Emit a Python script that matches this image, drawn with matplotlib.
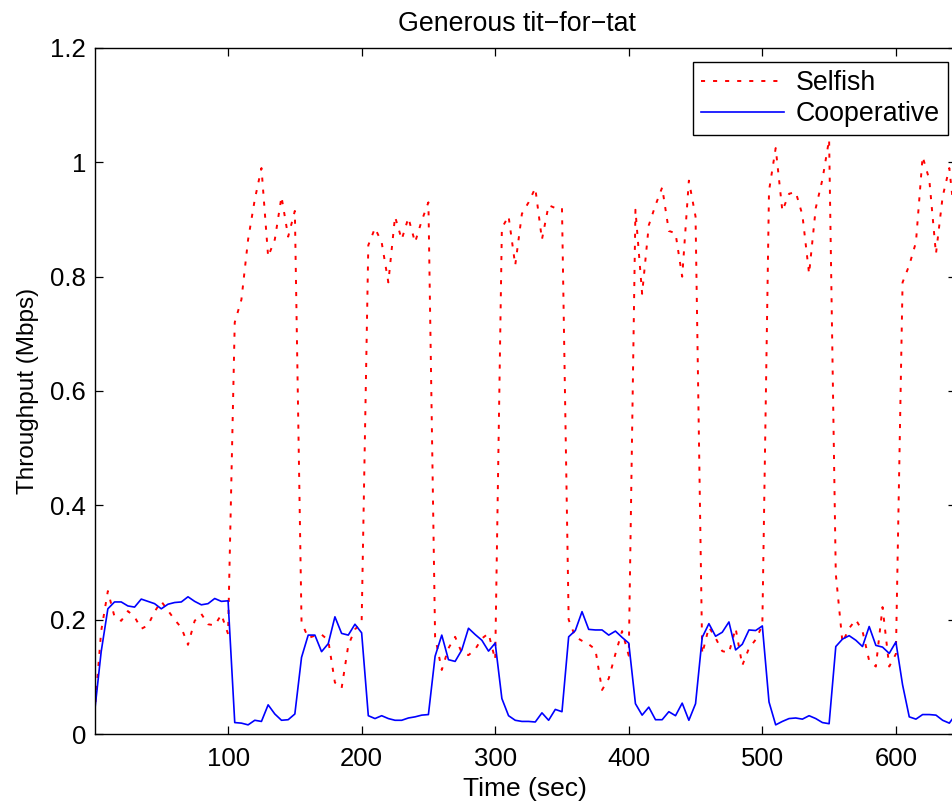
import matplotlib
matplotlib.use("Agg")
import matplotlib.pyplot as plt
import numpy as np

plt.rcParams['font.family'] = ['Liberation Sans', 'DejaVu Sans']

# sample times (sec), one reading every 5 s
time = np.arange(0, 650, 5)

selfish = [
    0.035, 0.18, 0.25, 0.205, 0.198, 0.215, 0.205, 0.184, 0.19, 0.214,
    0.232, 0.216, 0.20, 0.186, 0.156, 0.198, 0.21, 0.192, 0.19, 0.209,
    0.175, 0.72, 0.76, 0.865, 0.935, 0.99, 0.835, 0.865, 0.94, 0.87,
    0.915, 0.196, 0.168, 0.172, 0.174, 0.164, 0.09, 0.08, 0.155, 0.183,
    0.195, 0.855, 0.885, 0.86, 0.79, 0.905, 0.865, 0.903, 0.86, 0.898,
    0.93, 0.17, 0.112, 0.15, 0.17, 0.142, 0.138, 0.148, 0.167, 0.176,
    0.13, 0.885, 0.906, 0.82, 0.91, 0.93, 0.955, 0.865, 0.925, 0.92,
    0.92, 0.20, 0.17, 0.163, 0.157, 0.148, 0.077, 0.097, 0.14, 0.18,
    0.137, 0.917, 0.77, 0.89, 0.925, 0.956, 0.88, 0.876, 0.80, 0.968,
    0.905, 0.14, 0.187, 0.168, 0.145, 0.142, 0.185, 0.12, 0.15, 0.165,
    0.19, 0.95, 1.025, 0.915, 0.945, 0.948, 0.908, 0.805, 0.92, 0.97,
    1.04, 0.28, 0.16, 0.185, 0.20, 0.18, 0.128, 0.118, 0.222, 0.118,
    0.14, 0.79, 0.82, 0.86, 1.01, 0.97, 0.84, 0.94, 0.99, 0.88,
]

cooperative = [
    0.037, 0.144, 0.219, 0.231, 0.231, 0.224, 0.222, 0.236, 0.232, 0.228,
    0.219, 0.227, 0.230, 0.231, 0.240, 0.232, 0.226, 0.228, 0.237, 0.232,
    0.233, 0.020, 0.019, 0.016, 0.024, 0.022, 0.051, 0.035, 0.024, 0.025,
    0.035, 0.134, 0.173, 0.173, 0.144, 0.158, 0.205, 0.176, 0.173, 0.192,
    0.177, 0.032, 0.027, 0.032, 0.027, 0.024, 0.024, 0.028, 0.030, 0.033,
    0.034, 0.136, 0.173, 0.130, 0.127, 0.147, 0.185, 0.174, 0.164, 0.145,
    0.159, 0.062, 0.032, 0.024, 0.022, 0.022, 0.021, 0.037, 0.024, 0.043,
    0.039, 0.170, 0.181, 0.214, 0.183, 0.182, 0.182, 0.173, 0.180, 0.169,
    0.159, 0.053, 0.033, 0.047, 0.025, 0.025, 0.039, 0.032, 0.054, 0.024,
    0.053, 0.169, 0.193, 0.171, 0.178, 0.196, 0.147, 0.157, 0.182, 0.181,
    0.189, 0.056, 0.016, 0.022, 0.027, 0.028, 0.026, 0.032, 0.027, 0.020,
    0.018, 0.153, 0.166, 0.172, 0.164, 0.153, 0.188, 0.155, 0.152, 0.141,
    0.161, 0.086, 0.030, 0.026, 0.034, 0.034, 0.033, 0.024, 0.019, 0.035,
]

xticks = [100, 200, 300, 400, 500, 600]
yticks = [0, 0.2, 0.4, 0.6, 0.8, 1.0, 1.2]
ytick_labels = ['0', '0.2', '0.4', '0.6', '0.8', '1', '1.2']

fig = plt.figure(figsize=(9.53, 8.06), dpi=100)
ax = fig.add_axes([94.5 / 953, 72 / 806, 861.5 / 953, 686 / 806])

ax.plot(time, selfish, color='#ff0000', lw=1.4, linestyle=(0, (2.1, 4.1)),
        label='Selfish')
ax.plot(time, cooperative, color='#0000ff', lw=1.2, label='Cooperative')

ax.set_xlim(0, 645)
ax.set_ylim(0, 1.2)
ax.set_xticks(xticks)
ax.set_yticks(yticks)
ax.set_yticklabels(ytick_labels)
ax.tick_params(direction='in', top=True, right=True, length=6, width=0.9,
               labelsize=18.5)
ax.tick_params(axis='x', pad=9)
ax.tick_params(axis='y', pad=6)
for s in ax.spines.values():
    s.set_linewidth(1.0)

ax.set_xlabel('Time (sec)', fontsize=19, labelpad=5)
ax.set_ylabel('Throughput (Mbps)', fontsize=17.5, labelpad=8)
ax.set_title('Generous tit\u2212for\u2212tat', fontsize=19.3, pad=12, x=0.49)

leg = ax.legend(loc='upper right', bbox_to_anchor=(948 / 953, 1 - 62 / 806),
                bbox_transform=fig.transFigure, borderaxespad=0,
                fontsize=19.3, fancybox=False, framealpha=1, edgecolor='black',
                handlelength=3.1, handletextpad=0.45, borderpad=0.3,
                labelspacing=0.2)
leg.get_frame().set_linewidth(1.0)

fig.savefig('out.png', dpi=100)
